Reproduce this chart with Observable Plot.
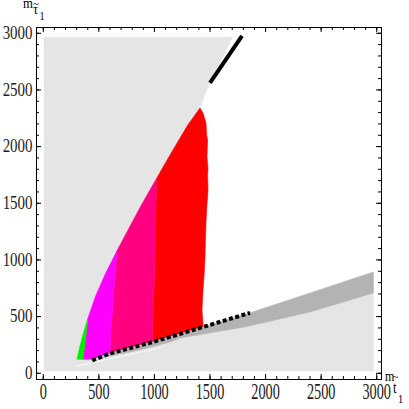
<!DOCTYPE html>
<html><head><meta charset="utf-8">
<script src="https://cdn.jsdelivr.net/npm/d3@7"></script>
<script src="https://cdn.jsdelivr.net/npm/@observablehq/plot@0.6"></script>
<style>html,body{margin:0;padding:0;background:#fff}svg{display:block}</style>
</head><body><div id="chart"></div>
<script>
// tick values
const majorTicks = [0, 500, 1000, 1500, 2000, 2500, 3000];
const minorTicks = [0,100,200,300,400,500,600,700,800,900,1000,1100,1200,1300,1400,1500,1600,1700,1800,1900,2000,2100,2200,2300,2400,2500,2600,2700,2800,2900,3000];

// axis titles (pieces: main, accent, subscript letter, index)
const xTitle = ["m", "~", "t", "1"];
const yTitle = ["m", "~", "τ", "1"];

// regions: [m_stop1, m_stau1] vertices
const lightGrayRegion = [[5,20],[2970,20],[2970,709],[2400,541],[1814,409],[1230,312],[1141,275],[900,215],[700,170],[500,125],[303,122],[330,240],[360,350],[400,480],[470,680],[560,880],[663,1080],[760,1260],[880,1480],[1020,1720],[1160,1960],[1300,2190],[1410,2341],[1470,2500],[1560,2680],[1700,2965],[5,2965]];
const darkGrayBand = [[500,128],[600,175],[988,277],[1410,400],[1860,533],[2402,709],[2970,894],[2970,709],[2400,541],[1814,409],[1230,312],[1141,275],[900,215],[700,170]];
const greenRegion = [[303,122],[330,240],[360,350],[400,480],[380,300],[357,122]];
const magentaRegion = [[357,122],[380,300],[400,480],[470,680],[560,880],[663,1080],[640,800],[627,620],[610,400],[600,178],[440,122]];
const pinkRegion = [[600,178],[610,400],[627,620],[640,800],[663,1080],[760,1260],[880,1480],[1020,1720],[1010,1300],[1003,912],[990,600],[982,300],[985,279]];
const redRegion = [[985,279],[982,300],[990,600],[1003,912],[1010,1300],[1020,1720],[1160,1960],[1300,2190],[1410,2341],[1437,2297],[1464,2209],[1470,2100],[1478,2060],[1473,1909],[1482,1800],[1478,1750],[1482,1618],[1470,1450],[1464,1327],[1458,1150],[1455,1027],[1448,880],[1437,735],[1432,640],[1428,559],[1437,427],[1437,410],[1410,402]];
const whiteSliver = [[303,64],[700,150],[1050,224]];
const dottedLine = [[440,113],[600,175],[988,277],[1410,400],[1860,533]];
const upperLine = [[1500,2562],[1788,2977]];

const W = 409, H = 409, mL = 36, mR = 28, mT = 27, mB = 30;
const innerW = W - mL - mR, innerH = H - mT - mB;

const poly = (pts, color) => Plot.line(pts, {x: d => d[0], y: d => d[1], fill: color, stroke: color, strokeWidth: 0.6, curve: "linear"});

const plot = Plot.plot({
  width: W, height: H,
  marginLeft: mL, marginRight: mR, marginTop: mT, marginBottom: mB,
  x: {domain: [-61, 3043]},
  y: {domain: [-55, 3051]},
  style: {background: "white", color: "black"},
  marks: [
    poly(lightGrayRegion, "#e5e5e5"),
    poly(darkGrayBand, "#b3b3b3"),
    Plot.line(whiteSliver, {x: d => d[0], y: d => d[1], stroke: "white", strokeWidth: 1, strokeOpacity: 0.8}),
    poly(redRegion, "#ff0000"),
    poly(pinkRegion, "#ff0080"),
    poly(magentaRegion, "#ff00ff"),
    poly(greenRegion, "#00f000"),
    Plot.line(dottedLine, {x: d => d[0], y: d => d[1], stroke: "black", strokeWidth: 4, strokeDasharray: "4,2.5", strokeLinecap: "butt"}),
    Plot.line(upperLine, {x: d => d[0], y: d => d[1], stroke: "black", strokeWidth: 4, strokeLinecap: "butt"}),
    Plot.frame({stroke: "black", strokeWidth: 1}),
    // inward ticks, all four sides
    Plot.tickX(minorTicks, {x: d => d, insetTop: innerH - 3, stroke: "black"}),
    Plot.tickX(majorTicks, {x: d => d, insetTop: innerH - 5, stroke: "black"}),
    Plot.tickX(minorTicks, {x: d => d, insetBottom: innerH - 3, stroke: "black"}),
    Plot.tickX(majorTicks, {x: d => d, insetBottom: innerH - 5, stroke: "black"}),
    Plot.tickY(minorTicks, {y: d => d, insetRight: innerW - 3, stroke: "black"}),
    Plot.tickY(majorTicks, {y: d => d, insetRight: innerW - 5, stroke: "black"}),
    Plot.tickY(minorTicks, {y: d => d, insetLeft: innerW - 3, stroke: "black"}),
    Plot.tickY(majorTicks, {y: d => d, insetLeft: innerW - 5, stroke: "black"}),
    Plot.axisX({anchor: "bottom", ticks: majorTicks, tickSize: 0, tickPadding: 3, tickFormat: d => String(d), fontFamily: "Liberation Serif", fontSize: 23, label: null, fill: "#222"}),
    Plot.axisY({anchor: "left", ticks: majorTicks, tickSize: 0, tickPadding: 4, tickFormat: d => String(d), fontFamily: "Liberation Serif", fontSize: 18, label: null, fill: "#222"})
  ]
});

const condense = (sel, s) => d3.select(plot).selectAll(sel).each(function() {
  const t = this.getAttribute("transform");
  this.setAttribute("transform", (t ? t + " " : "") + `scale(${s},1)`);
});
condense('g[aria-label="x-axis tick label"] text', 0.62);
condense('g[aria-label="y-axis tick label"] text', 0.83);

// axis titles as single text elements with tspans
function addTitle(parts, tx, ty, sx, spec) {
  const t = d3.select(plot).append("text")
    .attr("font-family", "Liberation Serif").attr("fill", "black")
    .attr("text-anchor", "start")
    .attr("transform", `translate(${tx},${ty}) scale(${sx},1)`);
  parts.forEach((p, i) => {
    t.append("tspan").attr("font-size", spec[i][0]).attr("dx", spec[i][1]).attr("dy", spec[i][2]).text(p);
  });
}
addTitle(xTitle, 385, 381, 0.8, [[15, 0, 0], [13, -2.1, -0.5], [16, -6.6, 12.5], [13, 1.8, 10]]);
addTitle(yTitle, 23, 7.5, 0.85, [[15, 0, 0], [13, 0.1, 0.5], [15, -7.0, 6], [12, 1.6, 6]]);

document.getElementById("chart").appendChild(plot);
</script>
</body></html>
